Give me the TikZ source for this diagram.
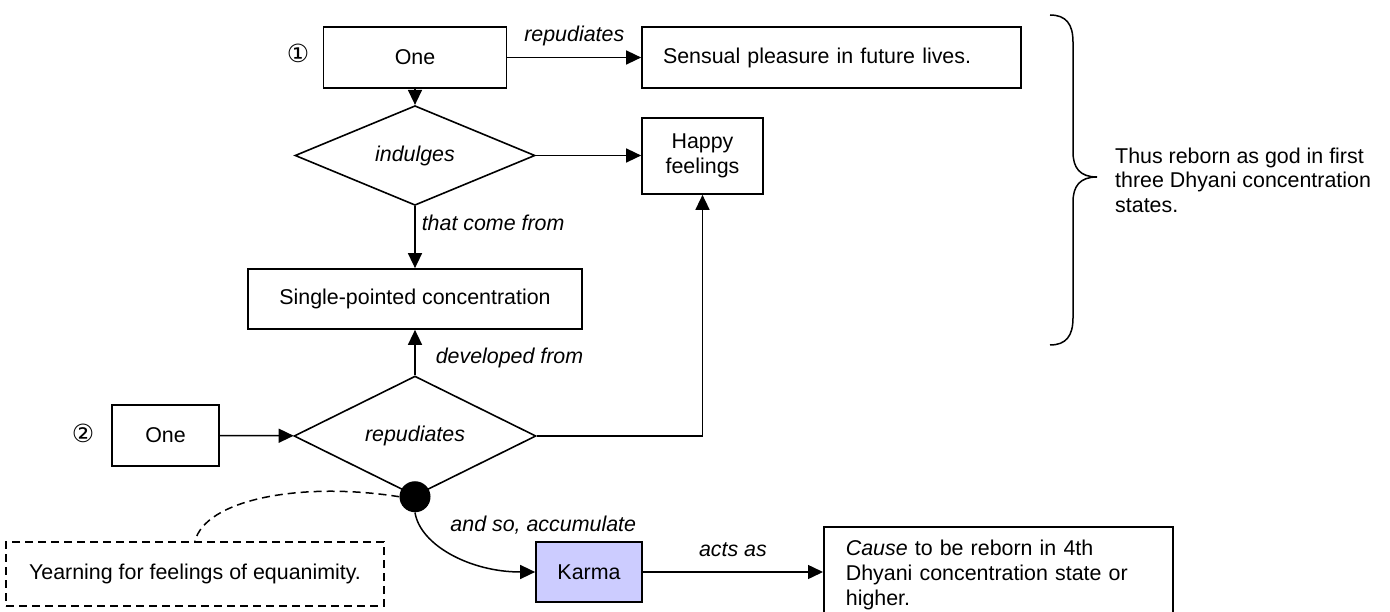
\documentclass[tikz,border=0pt]{standalone}
\usepackage{fontspec}
\setmainfont{Liberation Sans}
\newfontfamily\circfont{DejaVu Sans}
\usepackage{tikz}
\usetikzlibrary{arrows.meta,shapes.geometric}
\definecolor{karmablue}{HTML}{CCCCFF}
\newcommand{\diagfont}{\fontsize{21.4}{24.7}\selectfont}
\tikzset{
	box/.style={draw, line width=1.7pt, inner sep=0pt, align=center, font=\diagfont},
	choice/.style={diamond, draw, line width=1.6pt, inner sep=0pt, font=\diagfont\itshape},
	lbl/.style={inner sep=0pt, font=\diagfont\itshape},
	note/.style={inner sep=0pt, font=\diagfont},
	link/.style={line width=1.5pt, -{Triangle[length=15pt, width=14pt]}},
	dashlink/.style={line width=1.5pt, dash pattern=on 8pt off 5pt}
}

\begin{document}
\begin{tikzpicture}[x=1pt, y=-1pt]
			%%%%% START %%%%%
			\useasboundingbox (0, 0) rectangle (1390, 612);
			
			\node[note] (first) at (298, 53) {\circfont\fontsize{25}{25}\selectfont ①};
			\node[box, minimum width=183pt, minimum height=61pt] (one1) at (415, 57.5) {One};
			\node[box, minimum height=61pt, text width=337pt, inner xsep=21pt, align=left] (pleasure) at (831.5, 57.5) {Sensual pleasure in future lives.};
			\node[choice, minimum width=240pt, minimum height=75pt] (indulge) at (415, 155.5) {indulges};
			\node[box, minimum width=121pt, minimum height=76pt] (happy) at (702.5, 156) {Happy\\feelings};
			\node[box, minimum width=334pt, minimum height=60pt] (single) at (415, 299) {Single-pointed concentration};
			
			\node[note] (second) at (83, 433) {\circfont\fontsize{25}{25}\selectfont ②};
			\node[box, minimum width=107pt, minimum height=61pt] (one2) at (165.5, 435.5) {One};
			\node[choice, minimum width=242pt, minimum height=92pt] (repud) at (415, 436) {repudiates};
			\node[circle, fill=black, minimum size=31pt, inner sep=0pt] (knot) at (repud.south) {};
			
			\node[box, line width=1.5pt, dash pattern=on 8pt off 5pt, minimum width=378pt, minimum height=64pt] (yearn) at (195, 574) {Yearning for feelings of equanimity.};
			\node[box, fill=karmablue, minimum width=106pt, minimum height=60pt] (karma) at (589, 572) {Karma};
			\node[box, anchor=north west, text width=305pt, inner xsep=22pt, inner ysep=13.4pt, align=left] (cause) at (823, 526) {\textit{Cause} to be reborn in 4th\\Dhyani concentration state or\\higher.};
			
			\node[note, anchor=north west, align=left] (thus) at (1115, 147.4) {Thus reborn as god in first\\three Dhyani concentration\\states.};
			
			% arrows
			\draw[link] (one1) -- node[lbl, anchor=base, yshift=15.5pt] {repudiates} (pleasure);
			\draw[link] (one1) -- (indulge);
			\draw[link] (indulge.east) -- (indulge.east -| happy.west);
			\draw[link] (indulge) -- node[lbl, anchor=base west, pos=0.4, xshift=6pt] {that come from} (single);
			\draw[link] (repud) -- node[lbl, anchor=base west, pos=0.26, xshift=20pt] {developed from} (single);
			\draw[link] (one2) -- (repud);
			\draw[link] (repud.east) -| (happy.south);
			\draw[dashlink] (knot.west) .. controls (300, 481) and (205, 500) .. (yearn.north);
			\draw[link] (knot.south) .. controls (420, 545) and (470, 572) .. node[lbl, anchor=base west, pos=0.25, xshift=23pt, yshift=4pt] {and so, accumulate} (karma.west);
			\draw[link] (karma.east) -- node[lbl, anchor=base, yshift=16pt] {acts as} (karma.east -| cause.west);
			
			% brace
			\draw[line width=1.5pt] (1050, 15) .. controls (1066, 15) and (1073, 24) .. (1073, 42) -- (1073, 152) .. controls (1073, 168) and (1080, 177) .. (1097, 177) .. controls (1080, 177) and (1073, 186) .. (1073, 202) -- (1073, 318) .. controls (1073, 336) and (1066, 345) .. (1050, 345);
			
			%%%%% END %%%%%
\end{tikzpicture}
\end{document}
